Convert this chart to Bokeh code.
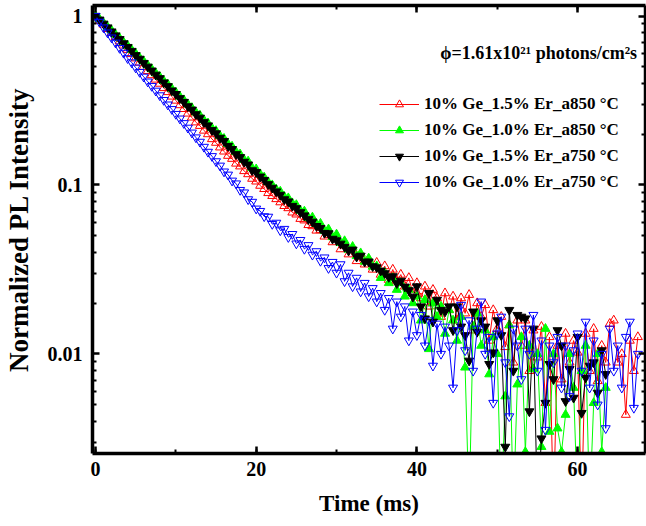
from bokeh.plotting import figure
from bokeh.models import (Range1d, LinearAxis, LogAxis, FixedTicker, SingleIntervalTicker,
                          Legend, LegendItem, Label, CustomJSTickFormatter)
from bokeh.embed import file_html
from bokeh.resources import INLINE

# ---------------- data ----------------
time_ms = [
    0.0, 0.5, 1.0, 1.5, 2.0, 2.5, 3.0, 3.5, 4.0, 4.5,
    5.0, 5.5, 6.0, 6.5, 7.0, 7.5, 8.0, 8.5, 9.0, 9.5,
    10.0, 10.5, 11.0, 11.5, 12.0, 12.5, 13.0, 13.5, 14.0, 14.5,
    15.0, 15.5, 16.0, 16.5, 17.0, 17.5, 18.0, 18.5, 19.0, 19.5,
    20.0, 20.5, 21.0, 21.5, 22.0, 22.5, 23.0, 23.5, 24.0, 24.5,
    25.0, 25.5, 26.0, 26.5, 27.0, 27.5, 28.0, 28.5, 29.0, 29.5,
    30.0, 30.5, 31.0, 31.5, 32.0, 32.5, 33.0, 33.5, 34.0, 34.5,
    35.0, 35.5, 36.0, 36.5, 37.0, 37.5, 38.0, 38.5, 39.0, 39.5,
    40.0, 40.5, 41.0, 41.5, 42.0, 42.5, 43.0, 43.5, 44.0, 44.5,
    45.0, 45.5, 46.0, 46.5, 47.0, 47.5, 48.0, 48.5, 49.0, 49.5,
    50.0, 50.5, 51.0, 51.5, 52.0, 52.5, 53.0, 53.5, 54.0, 54.5,
    55.0, 55.5, 56.0, 56.5, 57.0, 57.5, 58.0, 58.5, 59.0, 59.5,
    60.0, 60.5, 61.0, 61.5, 62.0, 62.5, 63.0, 63.5, 64.0, 64.5,
    65.0, 65.5, 66.0, 66.5, 67.0, 67.5,
]

ge10_er15_a850 = [  # red, open up-triangles
    1.000, 0.940, 0.891, 0.839, 0.794, 0.752, 0.708, 0.670, 0.631, 0.596,
    0.562, 0.530, 0.501, 0.473, 0.447, 0.421, 0.398, 0.375, 0.355, 0.334,
    0.316, 0.297, 0.282, 0.265, 0.251, 0.235, 0.224, 0.210, 0.200, 0.187,
    0.178, 0.167, 0.158, 0.149, 0.143, 0.134, 0.129, 0.121, 0.116, 0.109,
    0.105, 0.0991, 0.0948, 0.0897, 0.0862, 0.0826, 0.0791, 0.0752, 0.0730, 0.0688,
    0.0670, 0.0631, 0.0618, 0.0580, 0.0571, 0.0538, 0.0541, 0.0496, 0.0507, 0.0459,
    0.0479, 0.0417, 0.0447, 0.0389, 0.0417, 0.0355, 0.0389, 0.0339, 0.0363, 0.0316,
    0.0347, 0.0295, 0.0331, 0.0275, 0.0316, 0.0269, 0.0295, 0.0251, 0.0282, 0.0229,
    0.0263, 0.0214, 0.0251, 0.0191, 0.0240, 0.0214, 0.0166, 0.0229, 0.0182, 0.0219,
    0.0158, 0.0214, 0.0174, 0.0224, 0.0138, 0.0200, 0.0166, 0.0195, 0.0120, 0.0182,
    0.0141, 0.0166, 0.0110, 0.0148, 0.00891, 0.0158, 0.0112, 0.0158, 0.00794, 0.0138,
    0.00955, 0.0145, 0.00513, 0.0126, 0.0012, 0.0112, 0.00708, 0.0132, 0.00891, 0.0120,
    0.0102, 0.0012, 0.0132, 0.00794, 0.0141, 0.00692, 0.0112, 0.00891, 0.0151, 0.0158,
    0.00891, 0.0100, 0.00437, 0.0120, 0.00794, 0.0126,
]

ge10_er10_a850 = [  # green, filled up-triangles
    1.000, 0.959, 0.912, 0.863, 0.822, 0.776, 0.740, 0.700, 0.667, 0.631,
    0.600, 0.566, 0.540, 0.511, 0.485, 0.459, 0.437, 0.413, 0.394, 0.372,
    0.353, 0.334, 0.318, 0.300, 0.286, 0.269, 0.258, 0.242, 0.232, 0.217,
    0.209, 0.195, 0.188, 0.175, 0.169, 0.157, 0.152, 0.141, 0.138, 0.126,
    0.124, 0.116, 0.111, 0.104, 0.0998, 0.0941, 0.0915, 0.0852, 0.0836, 0.0781,
    0.0762, 0.0706, 0.0698, 0.0640, 0.0643, 0.0588, 0.0591, 0.0536, 0.0547, 0.0492,
    0.0510, 0.0455, 0.0466, 0.0415, 0.0431, 0.0380, 0.0395, 0.0352, 0.0368, 0.0329,
    0.0331, 0.0282, 0.0302, 0.0263, 0.0282, 0.0240, 0.0263, 0.0219, 0.0240, 0.0200,
    0.0219, 0.0158, 0.0209, 0.0107, 0.0200, 0.0166, 0.0191, 0.0132, 0.0182, 0.0158,
    0.0120, 0.0166, 0.00832, 0.0012, 0.0145, 0.0174, 0.0112, 0.0138, 0.00759, 0.0126,
    0.0100, 0.0012, 0.00562, 0.0148, 0.0012, 0.00661, 0.0126, 0.00263, 0.0112, 0.00813,
    0.0100, 0.00282, 0.0141, 0.00347, 0.0100, 0.00363, 0.00263, 0.00437, 0.0100, 0.00631,
    0.0012, 0.00794, 0.0112, 0.0012, 0.00513, 0.0100, 0.00263, 0.00631,
]

ge10_er15_a750 = [  # black, filled down-triangles
    1.000, 0.951, 0.900, 0.855, 0.809, 0.767, 0.729, 0.689, 0.655, 0.621,
    0.586, 0.558, 0.527, 0.501, 0.475, 0.449, 0.428, 0.404, 0.384, 0.362,
    0.345, 0.326, 0.310, 0.292, 0.279, 0.262, 0.250, 0.235, 0.225, 0.211,
    0.202, 0.190, 0.182, 0.170, 0.163, 0.152, 0.146, 0.137, 0.132, 0.122,
    0.119, 0.112, 0.107, 0.101, 0.0962, 0.0915, 0.0874, 0.0822, 0.0798, 0.0751,
    0.0728, 0.0689, 0.0660, 0.0627, 0.0606, 0.0571, 0.0556, 0.0520, 0.0517, 0.0480,
    0.0470, 0.0449, 0.0430, 0.0408, 0.0414, 0.0376, 0.0381, 0.0351, 0.0352, 0.0330,
    0.0325, 0.0311, 0.0300, 0.0285, 0.0288, 0.0262, 0.0271, 0.0250, 0.0238, 0.0218,
    0.0251, 0.0191, 0.0162, 0.0229, 0.0155, 0.0209, 0.0182, 0.0178, 0.0191, 0.0138,
    0.0191, 0.0145, 0.0129, 0.00912, 0.0178, 0.0135, 0.0158, 0.0145, 0.00871, 0.0102,
    0.0158, 0.0129, 0.00282, 0.0182, 0.00794, 0.0170, 0.0166, 0.0162, 0.00457, 0.0141,
    0.0012, 0.00316, 0.00513, 0.00871, 0.00708, 0.0138, 0.0112, 0.00525, 0.00813, 0.00550,
    0.0126, 0.00447, 0.00724, 0.00851, 0.00891, 0.00589, 0.0105, 0.00759,
]

ge10_er10_a750 = [  # blue, open down-triangles
    1.000, 0.923, 0.855, 0.798, 0.745, 0.695, 0.646, 0.605, 0.562, 0.531,
    0.495, 0.466, 0.437, 0.409, 0.385, 0.361, 0.339, 0.318, 0.299, 0.281,
    0.263, 0.247, 0.232, 0.218, 0.204, 0.191, 0.180, 0.168, 0.157, 0.148,
    0.138, 0.130, 0.120, 0.115, 0.106, 0.102, 0.0933, 0.0902, 0.0822, 0.0794,
    0.0724, 0.0701, 0.0652, 0.0648, 0.0587, 0.0597, 0.0538, 0.0549, 0.0491, 0.0512,
    0.0450, 0.0472, 0.0418, 0.0440, 0.0386, 0.0405, 0.0355, 0.0372, 0.0322, 0.0350,
    0.0302, 0.0339, 0.0269, 0.0302, 0.0251, 0.0282, 0.0234, 0.0263, 0.0219, 0.0245,
    0.0204, 0.0229, 0.0182, 0.0214, 0.0141, 0.0204, 0.0166, 0.0191, 0.0120, 0.0178,
    0.0129, 0.0170, 0.0112, 0.0158, 0.00851, 0.0151, 0.0100, 0.0145, 0.0112, 0.00631,
    0.0138, 0.0195, 0.0105, 0.0158, 0.00794, 0.0141, 0.0204, 0.0100, 0.0126, 0.00513,
    0.0132, 0.0166, 0.00891, 0.00427, 0.0141, 0.0112, 0.00708, 0.0141, 0.0100, 0.0170,
    0.00794, 0.0120, 0.00355, 0.0112, 0.00891, 0.0126, 0.00631, 0.0112, 0.00562, 0.0105,
    0.0132, 0.00794, 0.0155, 0.00631, 0.0120, 0.00501, 0.0100, 0.00363, 0.0141, 0.00794,
    0.0112, 0.00631, 0.0126, 0.0155, 0.00479, 0.0100,
]

series_labels = [
    "10% Ge_1.5% Er_a850 °C",
    "10% Ge_1.0% Er_a850 °C",
    "10% Ge_1.5% Er_a750 °C",
    "10% Ge_1.0% Er_a750 °C",
]
flux_text = "ϕ=1.61x10²¹ photons/cm²s"

x_major_interval = 20
y_major_ticks = [0.01, 0.1, 1]
y_minor_ticks = [0.003, 0.004, 0.005, 0.006, 0.007, 0.008, 0.009,
                 0.02, 0.03, 0.04, 0.05, 0.06, 0.07, 0.08, 0.09,
                 0.2, 0.3, 0.4, 0.5, 0.6, 0.7, 0.8, 0.9]

# ---------------- figure ----------------
FONT = "Liberation Serif"

p = figure(width=646, height=526,
           x_range=Range1d(-0.37, 68.45), y_range=Range1d(0.002576, 1.154),
           y_axis_type="log", output_backend="svg", toolbar_location=None,
           min_border_left=91, min_border_right=1, min_border_top=5, min_border_bottom=73)
p.grid.visible = False
p.outline_line_color = None
p.background_fill_color = "white"
p.border_fill_color = "white"


def style_axis(ax):
    ax.axis_line_width = 3.5
    ax.axis_line_color = "black"
    ax.major_tick_in = 7
    ax.major_tick_out = 0
    ax.minor_tick_in = 4
    ax.minor_tick_out = 0
    ax.major_tick_line_width = 2.5
    ax.minor_tick_line_width = 2
    ax.major_tick_line_color = "black"
    ax.minor_tick_line_color = "black"
    ax.major_label_text_font = FONT
    ax.major_label_text_font_style = "bold"
    ax.major_label_text_font_size = "20px"
    ax.major_label_text_color = "black"
    ax.axis_label_text_color = "black"


xax = p.xaxis[0]
style_axis(xax)
xax.ticker = SingleIntervalTicker(interval=x_major_interval, num_minor_ticks=2)
xax.major_label_standoff = 8
xax.axis_label = "Time (ms)"
xax.axis_label_text_font = FONT
xax.axis_label_text_font_style = "bold"
xax.axis_label_text_font_size = "23px"
xax.axis_label_standoff = 12

yax = p.yaxis[0]
style_axis(yax)
yax.ticker = FixedTicker(ticks=y_major_ticks, minor_ticks=y_minor_ticks)
yax.major_label_overrides = {0.01: "0.01", 0.1: "0.1", 1: "1"}
yax.major_label_standoff = 10
yax.axis_label = "Normalized PL Intensity"
yax.axis_label_text_font = FONT
yax.axis_label_text_font_style = "bold"
yax.axis_label_text_font_size = "27px"
yax.axis_label_standoff = 11

top = LinearAxis(ticker=SingleIntervalTicker(interval=x_major_interval, num_minor_ticks=2),
                 formatter=CustomJSTickFormatter(code="return ''"))
style_axis(top)
top.major_label_text_font_size = "0px"
top.major_label_standoff = 0
p.add_layout(top, "above")

right = LogAxis(ticker=FixedTicker(ticks=y_major_ticks, minor_ticks=y_minor_ticks),
                formatter=CustomJSTickFormatter(code="return ''"))
style_axis(right)
right.major_label_text_font_size = "0px"
right.major_label_standoff = 0
p.add_layout(right, "right")

# ---------------- data glyphs ----------------
styles = [
    (ge10_er15_a850, "#FF0000", "triangle", None),
    (ge10_er10_a850, "#00FF00", "triangle", "#00FF00"),
    (ge10_er15_a750, "#000000", "inverted_triangle", "#000000"),
    (ge10_er10_a750, "#0000FF", "inverted_triangle", None),
]

items = []
for (vals, color, marker, fill), label in zip(styles, series_labels):
    xs = time_ms[:len(vals)]
    ln = p.line(xs, vals, line_color=color, line_width=1)
    sc = p.scatter(xs, vals, marker=marker, size=9, line_color=color, line_width=1,
                   fill_color=fill)
    items.append(LegendItem(label=label, renderers=[ln, sc]))

legend = Legend(items=items, location=(287, 261), padding=0, margin=0, spacing=6,
                glyph_width=40, glyph_height=20, label_height=20, label_standoff=5,
                border_line_color=None, background_fill_alpha=0,
                label_text_font=FONT, label_text_font_style="bold",
                label_text_font_size="17px", label_text_color="black")
p.add_layout(legend)

p.add_layout(Label(x=67.4, y=0.608, text=flux_text, text_align="right", text_baseline="middle",
                   text_font=FONT, text_font_style="bold", text_font_size="18px",
                   text_color="black"))

open("out.html", "w").write(file_html(p, INLINE))
